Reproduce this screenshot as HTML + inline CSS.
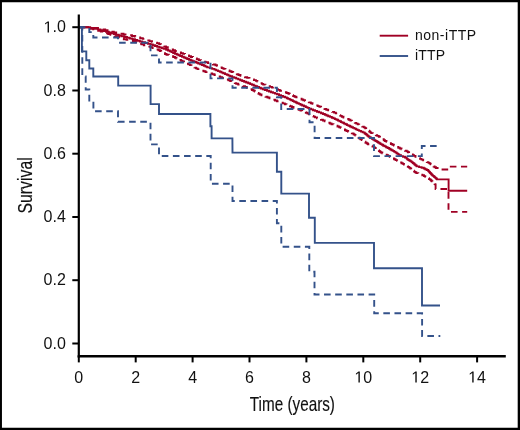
<!DOCTYPE html>
<html><head><meta charset="utf-8"><style>
html,body{margin:0;padding:0;background:#fff;}
body{width:520px;height:430px;overflow:hidden;}
svg{display:block;will-change:transform;font-family:"Liberation Sans",sans-serif;fill:#000;}
svg text{fill:#111;}
</style></head><body>

<svg width="520" height="430" viewBox="0 0 520 430">
<rect x="0" y="0" width="520" height="430" fill="#fff"/>
<path d="M0,0 H520 V430 H0 Z M1.95,2.25 V427.7 H517.7 V2.25 Z" fill="#000" fill-rule="evenodd"/>
<polyline points="78.8,27.3 92.2,27.3 92.2,28.0 98.0,28.0 98.0,28.7 102.0,28.7 102.0,29.5 105.2,29.5 105.2,30.2 108.5,30.2 108.5,31.0 111.2,31.0 111.2,31.7 113.8,31.7 113.8,32.4 116.2,32.4 116.2,33.1 119.2,33.1 119.2,33.8 123.5,33.8 123.5,34.5 127.8,34.5 127.8,35.3 132.0,35.3 132.0,36.0 135.2,36.0 135.2,36.7 137.8,36.7 137.8,37.4 140.2,37.4 140.2,38.2 142.8,38.2 142.8,38.9 145.0,38.9 145.0,39.7 147.2,39.7 147.2,40.4 149.5,40.4 149.5,41.1 152.0,41.1 152.0,41.9 154.5,41.9 154.5,42.6 157.0,42.6 157.0,43.3 159.2,43.3 159.2,44.1 161.0,44.1 161.0,44.9 162.5,44.9 162.5,45.6 164.2,45.6 164.2,46.4 166.0,46.4 166.0,47.2 167.8,47.2 167.8,47.9 169.5,47.9 169.5,48.7 171.2,48.7 171.2,49.4 173.0,49.4 173.0,50.2 175.0,50.2 175.0,51.0 177.0,51.0 177.0,51.7 179.0,51.7 179.0,52.4 181.0,52.4 181.0,53.2 183.0,53.2 183.0,53.9 185.0,53.9 185.0,54.7 187.0,54.7 187.0,55.4 189.0,55.4 189.0,56.2 191.0,56.2 191.0,57.0 193.0,57.0 193.0,57.8 194.8,57.8 194.8,58.5 196.8,58.5 196.8,59.3 198.8,59.3 198.8,60.1 201.0,60.1 201.0,60.8 203.2,60.8 203.2,61.6 205.5,61.6 205.5,62.3 208.0,62.3 208.0,63.1 210.5,63.1 210.5,63.8 213.0,63.8 213.0,64.5 215.5,64.5 215.5,65.2 217.0,65.2 217.0,65.9 218.5,65.9 218.5,66.6 220.2,66.6 220.2,67.4 221.8,67.4 221.8,68.1 223.5,68.1 223.5,68.9 225.5,68.9 225.5,69.7 227.5,69.7 227.5,70.4 229.5,70.4 229.5,71.2 231.5,71.2 231.5,72.0 233.2,72.0 233.2,72.8 235.0,72.8 235.0,73.5 236.8,73.5 236.8,74.2 238.5,74.2 238.5,75.0 240.5,75.0 240.5,75.7 242.8,75.7 242.8,76.4 245.0,76.4 245.0,77.2 247.2,77.2 247.2,77.9 249.5,77.9 249.5,78.7 251.7,78.7 251.7,79.4 253.9,79.4 253.9,80.1 255.9,80.1 255.9,80.9 257.4,80.9 257.4,81.6 258.8,81.6 258.8,82.4 260.3,82.4 260.3,83.1 261.8,83.1 261.8,83.9 263.2,83.9 263.2,84.6 265.5,84.6 265.5,85.3 267.8,85.3 267.8,86.1 270.0,86.1 270.0,86.9 272.0,86.9 272.0,87.6 273.9,87.6 273.9,88.4 275.9,88.4 275.9,89.1 277.9,89.1 277.9,89.9 279.8,89.9 279.8,90.7 282.1,90.7 282.1,91.4 284.3,91.4 284.3,92.2 286.5,92.2 286.5,93.0 288.5,93.0 288.5,93.8 289.9,93.8 289.9,94.5 291.6,94.5 291.6,95.3 293.1,95.3 293.1,96.0 294.6,96.0 294.6,96.7 296.3,96.7 296.3,97.4 298.1,97.4 298.1,98.1 299.8,98.1 299.8,98.8 301.6,98.8 301.6,99.5 303.3,99.5 303.3,100.2 305.0,100.2 305.0,100.9 307.0,100.9 307.0,101.7 308.8,101.7 308.8,102.4 310.8,102.4 310.8,103.2 312.5,103.2 312.5,103.9 314.2,103.9 314.2,104.6 315.9,104.6 315.9,105.4 317.7,105.4 317.7,106.1 319.4,106.1 319.4,106.8 321.1,106.8 321.1,107.5 322.8,107.5 322.8,108.2 324.5,108.2 324.5,109.0 326.3,109.0 326.3,109.7 328.2,109.7 328.2,110.4 330.2,110.4 330.2,111.2 332.1,111.2 332.1,111.9 334.1,111.9 334.1,112.6 335.8,112.6 335.8,113.4 337.3,113.4 337.3,114.2 338.8,114.2 338.8,115.1 340.3,115.1 340.3,115.9 341.8,115.9 341.8,116.7 343.5,116.7 343.5,117.5 345.2,117.5 345.2,118.2 347.0,118.2 347.0,119.0 348.7,119.0 348.7,119.8 350.4,119.8 350.4,120.6 351.9,120.6 351.9,121.3 353.4,121.3 353.4,122.1 354.8,122.1 354.8,122.9 356.3,122.9 356.3,123.6 357.8,123.6 357.8,124.4 359.2,124.4 359.2,125.1 360.8,125.1 360.8,125.9 362.2,125.9 362.2,126.6 363.8,126.6 363.8,127.4 365.2,127.4 365.2,128.2 366.2,128.2 366.2,129.0 367.2,129.0 367.2,129.9 368.2,129.9 368.2,130.7 369.2,130.7 369.2,131.5 370.2,131.5 370.2,132.4 371.2,132.4 371.2,133.1 372.8,133.1 372.8,133.8 374.2,133.8 374.2,134.5 375.8,134.5 375.8,135.2 377.2,135.2 377.2,135.9 378.8,135.9 378.8,136.8 380.0,136.8 380.0,137.6 381.2,137.6 381.2,138.5 382.5,138.5 382.5,139.3 383.8,139.3 383.8,140.2 385.0,140.2 385.0,141.0 386.5,141.0 386.5,141.7 388.0,141.7 388.0,142.5 389.4,142.5 389.4,143.2 390.9,143.2 390.9,144.0 392.4,144.0 392.4,144.7 393.9,144.7 393.9,145.5 395.3,145.5 395.3,146.2 396.8,146.2 396.8,147.0 398.3,147.0 398.3,147.7 399.8,147.7 399.8,148.5 401.5,148.5 401.5,149.2 403.2,149.2 403.2,150.0 405.0,150.0 405.0,150.7 406.7,150.7 406.7,151.4 407.9,151.4 407.9,152.2 409.1,152.2 409.1,153.0 410.3,153.0 410.3,153.7 411.6,153.7 411.6,154.5 412.8,154.5 412.8,155.2 414.0,155.2 414.0,155.9 415.5,155.9 415.5,156.7 417.0,156.7 417.0,157.4 418.5,157.4 418.5,158.2 420.0,158.2 420.0,158.9 421.5,158.9 421.5,159.6 423.2,159.6 423.2,160.4 425.0,160.4 425.0,161.2 426.8,161.2 426.8,162.1 428.5,162.1 428.5,162.9 429.7,162.9 429.7,163.6 430.7,163.6 430.7,164.4 431.7,164.4 431.7,165.1 432.6,165.1 432.6,165.8 433.6,165.8 433.6,166.5 434.6,166.5 434.6,167.3 436.0,167.3 436.0,168.0 438.8,168.0 438.8,168.7 441.5,168.7 441.5,169.5 448.4,169.5 448.4,168.6 448.4,168.3 448.4,168.1 448.4,167.8 448.4,167.6 448.4,167.3 448.4,167.1 448.4,166.8 448.4,166.6 467.2,166.6 467.2,166.6" fill="none" stroke="#a00024" stroke-width="1.9" stroke-dasharray="6.6 4.54" stroke-dashoffset="7.45"/>
<polyline points="78.8,27.3 88.2,27.3 88.2,28.0 90.8,28.0 90.8,28.7 93.2,28.7 93.2,29.4 95.8,29.4 95.8,30.2 98.2,30.2 98.2,30.9 100.8,30.9 100.8,31.6 103.2,31.6 103.2,32.4 105.8,32.4 105.8,33.2 108.2,33.2 108.2,34.0 110.5,34.0 110.5,34.7 112.5,34.7 112.5,35.4 114.8,35.4 114.8,36.2 117.0,36.2 117.0,36.9 119.2,36.9 119.2,37.7 121.5,37.7 121.5,38.5 123.8,38.5 123.8,39.2 126.5,39.2 126.5,39.9 129.8,39.9 129.8,40.7 133.0,40.7 133.0,41.4 135.5,41.4 135.5,42.2 137.5,42.2 137.5,42.9 139.5,42.9 139.5,43.7 141.5,43.7 141.5,44.4 143.8,44.4 143.8,45.2 146.0,45.2 146.0,45.9 148.2,45.9 148.2,46.6 150.5,46.6 150.5,47.3 152.5,47.3 152.5,48.0 154.5,48.0 154.5,48.8 156.5,48.8 156.5,49.5 158.5,49.5 158.5,50.2 160.0,50.2 160.0,51.0 161.2,51.0 161.2,51.8 162.5,51.8 162.5,52.5 163.8,52.5 163.8,53.2 165.0,53.2 165.0,54.0 166.5,54.0 166.5,54.8 168.8,54.8 168.8,55.5 171.0,55.5 171.0,56.3 173.2,56.3 173.2,57.0 175.0,57.0 175.0,57.8 176.5,57.8 176.5,58.5 178.0,58.5 178.0,59.3 179.5,59.3 179.5,60.0 181.0,60.0 181.0,60.8 182.5,60.8 182.5,61.5 184.0,61.5 184.0,62.2 185.5,62.2 185.5,62.9 187.0,62.9 187.0,63.7 188.5,63.7 188.5,64.4 190.0,64.4 190.0,65.1 191.5,65.1 191.5,65.9 193.0,65.9 193.0,66.7 194.5,66.7 194.5,67.6 196.0,67.6 196.0,68.4 197.5,68.4 197.5,69.1 199.5,69.1 199.5,69.8 201.5,69.8 201.5,70.6 203.5,70.6 203.5,71.3 205.5,71.3 205.5,72.1 207.8,72.1 207.8,72.8 210.0,72.8 210.0,73.5 212.2,73.5 212.2,74.2 214.5,74.2 214.5,75.0 216.5,75.0 216.5,75.8 218.2,75.8 218.2,76.5 220.2,76.5 220.2,77.3 222.2,77.3 222.2,78.0 224.2,78.0 224.2,78.7 226.5,78.7 226.5,79.5 228.5,79.5 228.5,80.2 230.2,80.2 230.2,81.0 231.8,81.0 231.8,81.7 233.2,81.7 233.2,82.4 234.8,82.4 234.8,83.1 236.2,83.1 236.2,83.8 238.2,83.8 238.2,84.6 240.5,84.6 240.5,85.4 242.8,85.4 242.8,86.1 245.0,86.1 245.0,86.9 246.8,86.9 246.8,87.7 248.5,87.7 248.5,88.4 250.2,88.4 250.2,89.2 252.0,89.2 252.0,90.0 253.5,90.0 253.5,90.7 254.8,90.7 254.8,91.5 256.0,91.5 256.0,92.2 257.2,92.2 257.2,93.0 258.5,93.0 258.5,93.7 259.8,93.7 259.8,94.5 261.5,94.5 261.5,95.2 263.5,95.2 263.5,96.0 265.5,96.0 265.5,96.7 267.5,96.7 267.5,97.5 269.5,97.5 269.5,98.3 271.5,98.3 271.5,99.1 273.2,99.1 273.2,99.8 275.0,99.8 275.0,100.5 276.9,100.5 276.9,101.3 278.9,101.3 278.9,102.0 280.8,102.0 280.8,102.7 282.8,102.7 282.8,103.4 284.8,103.4 284.8,104.2 286.5,104.2 286.5,104.9 288.2,104.9 288.2,105.6 290.0,105.6 290.0,106.3 291.8,106.3 291.8,107.0 293.5,107.0 293.5,107.7 295.2,107.7 295.2,108.4 297.0,108.4 297.0,109.2 298.8,109.2 298.8,109.9 300.5,109.9 300.5,110.6 302.2,110.6 302.2,111.3 304.1,111.3 304.1,112.1 305.8,112.1 305.8,112.8 307.5,112.8 307.5,113.5 309.0,113.5 309.0,114.3 310.5,114.3 310.5,115.1 312.0,115.1 312.0,115.9 313.5,115.9 313.5,116.6 315.0,116.6 315.0,117.4 317.0,117.4 317.0,118.2 319.0,118.2 319.0,118.9 321.0,118.9 321.0,119.7 322.9,119.7 322.9,120.5 324.7,120.5 324.7,121.3 326.4,121.3 326.4,122.0 328.1,122.0 328.1,122.8 329.8,122.8 329.8,123.5 331.5,123.5 331.5,124.3 333.5,124.3 333.5,125.0 335.5,125.0 335.5,125.7 337.5,125.7 337.5,126.5 339.2,126.5 339.2,127.2 340.6,127.2 340.6,127.9 342.1,127.9 342.1,128.7 343.6,128.7 343.6,129.5 345.0,129.5 345.0,130.3 346.5,130.3 346.5,131.0 348.2,131.0 348.2,131.8 350.0,131.8 350.0,132.6 351.8,132.6 351.8,133.4 353.5,133.4 353.5,134.2 354.5,134.2 354.5,134.9 355.5,134.9 355.5,135.6 356.5,135.6 356.5,136.4 357.5,136.4 357.5,137.1 358.5,137.1 358.5,137.8 359.5,137.8 359.5,138.5 360.5,138.5 360.5,139.2 361.8,139.2 361.8,140.1 363.0,140.1 363.0,141.0 364.2,141.0 364.2,141.8 365.5,141.8 365.5,142.7 366.8,142.7 366.8,143.5 368.0,143.5 368.0,144.2 369.5,144.2 369.5,145.0 371.0,145.0 371.0,145.8 372.5,145.8 372.5,146.6 374.0,146.6 374.0,147.4 375.0,147.4 375.0,148.1 375.9,148.1 375.9,148.9 376.9,148.9 376.9,149.6 377.9,149.6 377.9,150.3 378.9,150.3 378.9,151.0 379.8,151.0 379.8,151.8 380.8,151.8 380.8,152.5 382.3,152.5 382.3,153.2 383.8,153.2 383.8,153.9 385.3,153.9 385.3,154.6 386.8,154.6 386.8,155.3 388.2,155.3 388.2,156.0 389.7,156.0 389.7,156.8 391.2,156.8 391.2,157.7 392.7,157.7 392.7,158.5 394.2,158.5 394.2,159.3 395.6,159.3 395.6,160.1 397.1,160.1 397.1,160.8 398.6,160.8 398.6,161.6 400.0,161.6 400.0,162.4 401.5,162.4 401.5,163.2 402.8,163.2 402.8,163.9 404.0,163.9 404.0,164.6 405.2,164.6 405.2,165.4 406.5,165.4 406.5,166.1 407.8,166.1 407.8,166.9 409.0,166.9 409.0,167.6 410.2,167.6 410.2,168.5 411.2,168.5 411.2,169.3 412.2,169.3 412.2,170.0 413.1,170.0 413.1,170.8 414.1,170.8 414.1,171.6 415.1,171.6 415.1,172.3 416.3,172.3 416.3,173.1 418.3,173.1 418.3,173.8 420.3,173.8 420.3,174.6 422.3,174.6 422.3,175.3 424.0,175.3 424.0,176.1 425.3,176.1 425.3,176.9 426.5,176.9 426.5,177.6 427.7,177.6 427.7,178.3 429.0,178.3 429.0,179.1 430.2,179.1 430.2,179.8 430.9,179.8 430.9,180.5 431.7,180.5 431.7,181.2 432.4,181.2 432.4,181.9 433.1,181.9 433.1,182.6 433.9,182.6 433.9,183.3 434.6,183.3 434.6,184.1 435.4,184.1 435.4,184.8 435.6,184.8 435.6,185.5 435.6,185.8 435.6,186.0 435.6,186.2 435.6,186.5 435.6,186.8 435.6,187.0 435.6,187.2 435.6,187.5 435.6,187.8 435.6,188.0 435.6,188.2 435.6,188.5 435.6,188.8 435.6,189.0 448.5,189.0 448.5,189.7 448.5,190.0 448.5,190.2 448.5,190.5 448.5,190.7 448.5,191.0 448.5,191.2 448.5,191.5 448.5,191.7 448.5,192.0 448.5,192.2 448.5,192.5 448.5,192.7 448.5,193.0 448.5,193.2 448.5,193.5 448.5,193.7 448.5,194.0 448.5,194.2 448.5,194.5 448.5,194.7 448.5,195.0 448.5,195.2 448.5,195.5 448.5,195.7 448.5,196.0 448.5,196.2 448.5,196.5 448.5,196.7 448.5,197.0 448.5,197.2 448.5,197.5 448.5,197.7 448.5,198.0 448.5,198.2 448.5,198.5 448.5,198.7 448.5,199.0 448.5,199.2 448.5,199.5 448.5,199.7 448.5,200.0 448.5,200.2 448.5,200.4 448.5,200.7 448.5,200.9 448.5,201.2 448.5,201.4 448.5,201.7 448.5,201.9 448.5,202.2 448.5,202.4 448.5,202.7 448.5,202.9 448.5,203.2 448.5,203.4 448.5,203.7 448.5,203.9 448.5,204.2 448.5,204.4 448.5,204.7 448.5,204.9 448.5,205.2 448.5,205.4 448.5,205.7 448.5,205.9 448.5,206.2 448.5,206.4 448.5,206.7 448.5,206.9 448.5,207.2 448.5,207.4 448.5,207.7 448.5,207.9 448.5,208.2 448.5,208.4 448.5,208.7 448.5,208.9 448.5,209.2 448.5,209.4 448.5,209.7 448.5,209.9 448.5,210.2 448.5,210.4 448.5,210.7 448.5,210.9 448.5,211.2 448.5,211.4 448.5,211.7 448.5,211.9 467.2,211.9 467.2,211.9" fill="none" stroke="#a00024" stroke-width="1.9" stroke-dasharray="6.6 4.54" stroke-dashoffset="0.22"/>
<polyline points="78.8,27.3 90.2,27.3 90.2,28.0 94.0,28.0 94.0,28.8 97.8,28.8 97.8,29.5 100.5,29.5 100.5,30.2 103.2,30.2 103.2,31.0 106.0,31.0 106.0,31.7 108.8,31.7 108.8,32.5 111.2,32.5 111.2,33.2 113.8,33.2 113.8,34.0 116.2,34.0 116.2,34.8 118.8,34.8 118.8,35.5 121.5,35.5 121.5,36.2 124.2,36.2 124.2,37.0 127.0,37.0 127.0,37.8 129.8,37.8 129.8,38.5 132.5,38.5 132.5,39.3 135.0,39.3 135.0,40.0 137.2,40.0 137.2,40.7 139.8,40.7 139.8,41.5 142.2,41.5 142.2,42.3 145.0,42.3 145.0,43.0 147.8,43.0 147.8,43.8 150.5,43.8 150.5,44.5 152.8,44.5 152.8,45.3 155.0,45.3 155.0,46.0 157.2,46.0 157.2,46.7 159.5,46.7 159.5,47.5 161.8,47.5 161.8,48.2 164.0,48.2 164.0,48.9 166.2,48.9 166.2,49.7 168.0,49.7 168.0,50.5 169.8,50.5 169.8,51.3 171.5,51.3 171.5,52.1 173.2,52.1 173.2,53.0 175.0,53.0 175.0,53.7 176.8,53.7 176.8,54.5 178.5,54.5 178.5,55.2 180.2,55.2 180.2,56.0 182.0,56.0 182.0,56.8 183.8,56.8 183.8,57.5 185.5,57.5 185.5,58.3 187.2,58.3 187.2,59.0 189.0,59.0 189.0,59.8 190.8,59.8 190.8,60.5 192.5,60.5 192.5,61.2 194.5,61.2 194.5,62.0 196.5,62.0 196.5,62.8 198.2,62.8 198.2,63.5 200.2,63.5 200.2,64.3 202.0,64.3 202.0,65.0 203.8,65.0 203.8,65.8 205.5,65.8 205.5,66.6 207.2,66.6 207.2,67.4 209.8,67.4 209.8,68.1 212.2,68.1 212.2,68.9 214.5,68.9 214.5,69.6 216.2,69.6 216.2,70.4 218.0,70.4 218.0,71.1 219.8,71.1 219.8,71.8 221.5,71.8 221.5,72.6 223.2,72.6 223.2,73.3 225.0,73.3 225.0,74.1 226.8,74.1 226.8,74.8 228.5,74.8 228.5,75.6 230.2,75.6 230.2,76.3 232.2,76.3 232.2,77.1 234.2,77.1 234.2,77.8 236.2,77.8 236.2,78.6 238.2,78.6 238.2,79.4 240.2,79.4 240.2,80.2 242.2,80.2 242.2,81.0 244.2,81.0 244.2,81.7 246.2,81.7 246.2,82.5 248.2,82.5 248.2,83.3 250.2,83.3 250.2,84.1 252.0,84.1 252.0,84.8 253.8,84.8 253.8,85.6 255.5,85.6 255.5,86.3 257.2,86.3 257.2,87.0 259.0,87.0 259.0,87.8 260.8,87.8 260.8,88.5 262.8,88.5 262.8,89.3 264.8,89.3 264.8,90.0 267.0,90.0 267.0,90.8 269.0,90.8 269.0,91.5 271.0,91.5 271.0,92.2 273.0,92.2 273.0,92.9 275.0,92.9 275.0,93.6 277.0,93.6 277.0,94.3 279.0,94.3 279.0,95.1 281.0,95.1 281.0,95.9 283.0,95.9 283.0,96.7 285.0,96.7 285.0,97.4 286.8,97.4 286.8,98.2 288.2,98.2 288.2,98.9 289.8,98.9 289.8,99.6 291.2,99.6 291.2,100.3 292.8,100.3 292.8,101.1 294.2,101.1 294.2,101.8 295.8,101.8 295.8,102.5 297.2,102.5 297.2,103.2 298.8,103.2 298.8,103.9 300.5,103.9 300.5,104.7 302.2,104.7 302.2,105.5 304.0,105.5 304.0,106.3 305.8,106.3 305.8,107.1 307.5,107.1 307.5,107.9 309.2,107.9 309.2,108.7 311.0,108.7 311.0,109.4 313.0,109.4 313.0,110.2 315.0,110.2 315.0,110.9 317.0,110.9 317.0,111.7 319.0,111.7 319.0,112.4 321.0,112.4 321.0,113.2 323.0,113.2 323.0,114.0 324.8,114.0 324.8,114.7 326.5,114.7 326.5,115.5 328.2,115.5 328.2,116.2 330.0,116.2 330.0,116.9 331.8,116.9 331.8,117.7 333.5,117.7 333.5,118.4 335.0,118.4 335.0,119.1 336.5,119.1 336.5,119.8 338.0,119.8 338.0,120.6 339.5,120.6 339.5,121.3 341.0,121.3 341.0,122.1 342.5,122.1 342.5,122.8 344.0,122.8 344.0,123.6 345.5,123.6 345.5,124.3 347.0,124.3 347.0,125.1 348.5,125.1 348.5,125.8 350.0,125.8 350.0,126.5 351.5,126.5 351.5,127.2 353.0,127.2 353.0,127.9 354.5,127.9 354.5,128.6 356.0,128.6 356.0,129.4 357.5,129.4 357.5,130.1 359.2,130.1 359.2,130.9 361.0,130.9 361.0,131.6 362.7,131.6 362.7,132.4 364.5,132.4 364.5,133.2 365.4,133.2 365.4,134.0 366.4,134.0 366.4,134.8 367.4,134.8 367.4,135.7 368.4,135.7 368.4,136.5 369.4,136.5 369.4,137.3 370.7,137.3 370.7,138.1 371.9,138.1 371.9,138.8 373.1,138.8 373.1,139.5 374.3,139.5 374.3,140.2 375.5,140.2 375.5,141.0 376.8,141.0 376.8,141.7 378.0,141.7 378.0,142.5 379.3,142.5 379.3,143.3 380.5,143.3 380.5,144.1 381.8,144.1 381.8,144.8 383.2,144.8 383.2,145.7 384.7,145.7 384.7,146.4 386.1,146.4 386.1,147.2 387.6,147.2 387.6,148.0 389.1,148.0 389.1,148.8 390.3,148.8 390.3,149.5 391.5,149.5 391.5,150.2 392.8,150.2 392.8,150.9 394.0,150.9 394.0,151.6 395.3,151.6 395.3,152.4 396.5,152.4 396.5,153.2 397.5,153.2 397.5,153.9 398.5,153.9 398.5,154.6 399.5,154.6 399.5,155.3 401.0,155.3 401.0,156.1 403.0,156.1 403.0,156.8 405.0,156.8 405.0,157.5 406.5,157.5 406.5,158.4 407.2,158.4 407.2,159.2 408.3,159.2 408.3,160.0 409.5,160.0 409.5,160.7 410.7,160.7 410.7,161.4 411.7,161.4 411.7,162.1 412.7,162.1 412.7,163.0 413.7,163.0 413.7,163.8 414.7,163.8 414.7,164.7 415.7,164.7 415.7,165.5 416.7,165.5 416.7,166.4 419.1,166.4 419.1,167.1 421.6,167.1 421.6,167.8 423.8,167.8 423.8,168.5 425.2,168.5 425.2,169.3 426.7,169.3 426.7,170.0 428.1,170.0 428.1,170.8 428.8,170.8 428.8,171.6 429.5,171.6 429.5,172.3 430.1,172.3 430.1,173.0 430.8,173.0 430.8,173.8 431.5,173.8 431.5,174.5 432.2,174.5 432.2,175.2 432.9,175.2 432.9,175.9 433.9,175.9 433.9,176.8 434.9,176.8 434.9,177.6 435.9,177.6 435.9,178.5 436.9,178.5 436.9,179.4 448.6,179.4 448.6,180.2 448.6,180.5 448.6,180.7 448.6,181.0 448.6,181.2 448.6,181.5 448.6,181.7 448.6,182.0 448.6,182.2 448.6,182.5 448.6,182.7 448.6,183.0 448.6,183.2 448.6,183.5 448.6,183.7 448.6,184.0 448.6,184.2 448.6,184.5 448.6,184.7 448.6,185.0 448.6,185.2 448.6,185.5 448.6,185.7 448.6,186.0 448.6,186.2 448.6,186.5 448.6,186.7 448.6,187.0 448.6,187.2 448.6,187.5 448.6,187.7 448.6,188.0 448.6,188.2 448.6,188.5 448.6,188.7 448.6,189.0 448.6,189.2 448.6,189.5 448.6,189.7 448.6,190.0 448.6,190.2 448.6,190.5 448.6,190.7 467.2,190.7 467.2,190.7" fill="none" stroke="#a00024" stroke-width="1.9"/>
<polyline points="78.8,27.3 82.3,27.3 82.3,76.5 85.7,76.5 85.7,89.5 89.3,89.5 89.3,101.5 93.4,101.5 93.4,111.3 118.0,111.3 118.0,121.8 150.5,121.8 150.5,144.4 159.0,144.4 159.0,156.0 210.7,156.0 210.7,183.8 232.5,183.8 232.5,201.0 276.9,201.0 276.9,223.2 281.3,223.2 281.3,246.8 309.3,246.8 309.3,271.8 314.5,271.8 314.5,294.5 374.2,294.5 374.2,313.2 422.1,313.2 422.1,336.0 440.3,336.0" fill="none" stroke="#34528a" stroke-width="1.9" stroke-dasharray="6.6 4.54" stroke-linejoin="miter"/>
<polyline points="78.8,27.3 89.3,27.3 89.3,32.1 93.3,32.1 93.3,37.5 118.0,37.5 118.0,42.7 150.5,42.7 150.5,55.4 159.0,55.4 159.0,62.5 210.5,62.5 210.5,78.4 232.5,78.4 232.5,87.7 276.9,87.7 276.9,97.3 281.2,97.3 281.2,109.0 309.5,109.0 309.5,122.2 314.6,122.2 314.6,138.0 374.0,138.0 374.0,156.1 421.8,156.1 421.8,146.0 437.8,146.0" fill="none" stroke="#34528a" stroke-width="1.9" stroke-dasharray="6.6 4.54"/>
<polyline points="78.8,27.3 81.9,27.3 81.9,51.4 86.3,51.4 86.3,60.3 89.3,60.3 89.3,68.5 93.3,68.5 93.3,76.5 118.2,76.5 118.2,85.6 150.6,85.6 150.6,104.1 159.0,104.1 159.0,114.0 210.4,114.0 210.4,126.3 211.6,126.3 211.6,138.4 232.4,138.4 232.5,152.6 276.9,152.6 276.9,171.7 281.3,171.7 281.3,193.6 309.0,193.6 309.0,217.7 314.8,217.7 314.8,242.9 374.0,242.9 374.0,268.3 422.0,268.3 422.0,305.5 440.0,305.5" fill="none" stroke="#34528a" stroke-width="1.9"/>
<line x1="78.8" y1="14.6" x2="78.8" y2="357.4" stroke="#000" stroke-width="2.2"/>
<line x1="77.7" y1="356.2" x2="505.8" y2="356.2" stroke="#000" stroke-width="2.4"/>
<line x1="72.3" y1="27.2" x2="78.8" y2="27.2" stroke="#000" stroke-width="2"/>
<path d="M47.58,32.40 L47.58,22.74 L45.10,24.51 L45.10,23.18 L47.70,21.39 L49.00,21.39 L49.00,32.40 Z" fill="#111"/>
<text x="52.46" y="32.40" font-size="16">.0</text>
<line x1="72.3" y1="90.5" x2="78.8" y2="90.5" stroke="#000" stroke-width="2"/>
<text x="43.56" y="95.66" font-size="16">0.8</text>
<line x1="72.3" y1="153.7" x2="78.8" y2="153.7" stroke="#000" stroke-width="2"/>
<text x="43.56" y="158.92" font-size="16">0.6</text>
<line x1="72.3" y1="217.0" x2="78.8" y2="217.0" stroke="#000" stroke-width="2"/>
<text x="43.56" y="222.18" font-size="16">0.4</text>
<line x1="72.3" y1="280.2" x2="78.8" y2="280.2" stroke="#000" stroke-width="2"/>
<text x="43.56" y="285.44" font-size="16">0.2</text>
<line x1="72.3" y1="343.5" x2="78.8" y2="343.5" stroke="#000" stroke-width="2"/>
<text x="43.56" y="348.70" font-size="16">0.0</text>
<line x1="78.8" y1="356" x2="78.8" y2="362.4" stroke="#000" stroke-width="2"/>
<text x="74.35" y="382.60" font-size="16">0</text>
<line x1="135.7" y1="356" x2="135.7" y2="362.4" stroke="#000" stroke-width="2"/>
<text x="131.25" y="382.60" font-size="16">2</text>
<line x1="192.6" y1="356" x2="192.6" y2="362.4" stroke="#000" stroke-width="2"/>
<text x="188.15" y="382.60" font-size="16">4</text>
<line x1="249.5" y1="356" x2="249.5" y2="362.4" stroke="#000" stroke-width="2"/>
<text x="245.05" y="382.60" font-size="16">6</text>
<line x1="306.4" y1="356" x2="306.4" y2="362.4" stroke="#000" stroke-width="2"/>
<text x="301.95" y="382.60" font-size="16">8</text>
<line x1="363.3" y1="356" x2="363.3" y2="362.4" stroke="#000" stroke-width="2"/>
<path d="M358.43,382.60 L358.43,372.94 L355.94,374.71 L355.94,373.38 L358.54,371.59 L359.84,371.59 L359.84,382.60 Z" fill="#111"/>
<text x="363.30" y="382.60" font-size="16">0</text>
<line x1="420.2" y1="356" x2="420.2" y2="362.4" stroke="#000" stroke-width="2"/>
<path d="M415.32,382.60 L415.32,372.94 L412.84,374.71 L412.84,373.38 L415.44,371.59 L416.74,371.59 L416.74,382.60 Z" fill="#111"/>
<text x="420.20" y="382.60" font-size="16">2</text>
<line x1="477.1" y1="356" x2="477.1" y2="362.4" stroke="#000" stroke-width="2"/>
<path d="M472.23,382.60 L472.23,372.94 L469.74,374.71 L469.74,373.38 L472.34,371.59 L473.64,371.59 L473.64,382.60 Z" fill="#111"/>
<text x="477.10" y="382.60" font-size="16">4</text>
<text x="292.4" y="411" text-anchor="middle" font-size="20.5" stroke="#111" stroke-width="0.15" transform="translate(292.4 0) scale(0.745 1) translate(-292.4 0)">Time (years)</text>
<text x="0" y="0" text-anchor="middle" font-size="19.5" stroke="#111" stroke-width="0.15" transform="translate(31.7 185.4) rotate(-90) scale(0.81 1)">Survival</text>
<line x1="379.7" y1="35.7" x2="408.1" y2="35.7" stroke="#a00024" stroke-width="1.9"/>
<line x1="379.7" y1="56" x2="408.1" y2="56" stroke="#34528a" stroke-width="1.9"/>
<text x="415" y="40.4" font-size="14" letter-spacing="0.5">non-iTTP</text>
<text x="415" y="60.1" font-size="14" letter-spacing="0.2">iTTP</text>
</svg>
</body></html>
